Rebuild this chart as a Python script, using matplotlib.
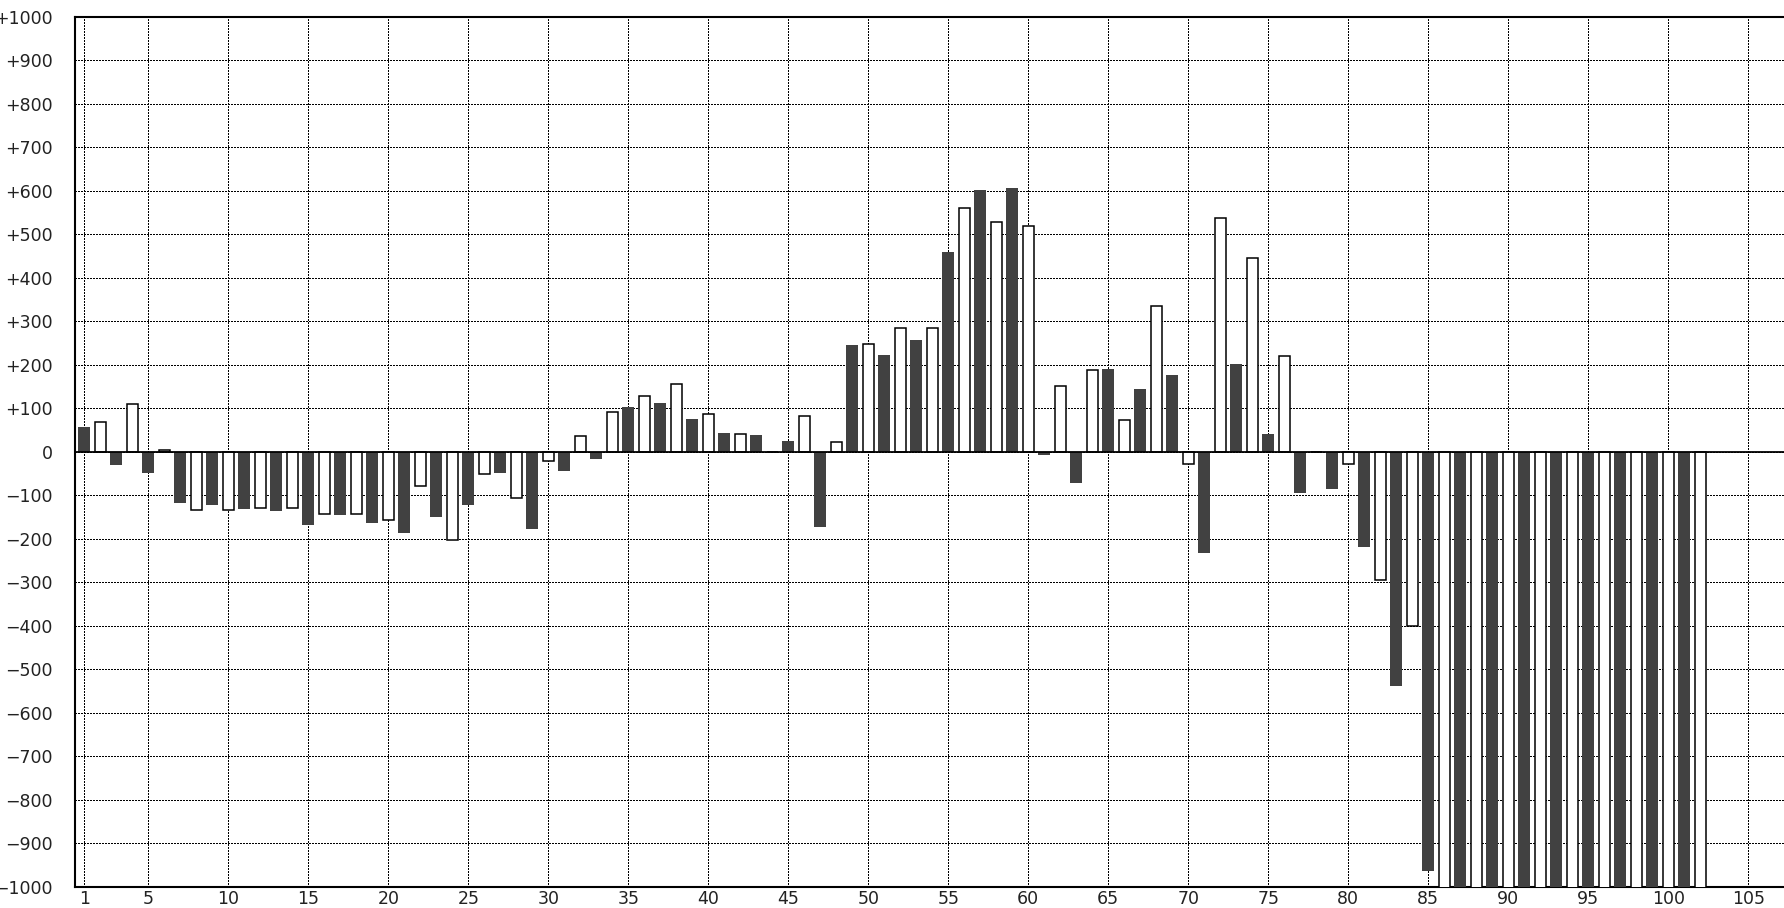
import matplotlib
matplotlib.use("Agg")
import matplotlib.pyplot as plt
from matplotlib.ticker import FixedLocator, FuncFormatter

# ---- data ----
positions = list(range(1, 103))
values = [
    57, 69, -30, 110, -49, 5, -118, -133, -122, -133,
    -131, -130, -136, -130, -168, -143, -145, -143, -164, -157,
    -186, -79, -150, -203, -122, -52, -49, -107, -177, -20,
    -44, 37, -17, 92, 102, 129, 112, 157, 75, 88,
    43, 42, 38, 0, 25, 82, -172, 23, 245, 248,
    222, 284, 258, 284, 460, 560, 602, 528, 607, 518,
    -7, 151, -71, 188, 190, 73, 144, 335, 176, -29,
    -232, 537, 203, 445, 42, 220, -95, 0, -86, -29,
    -218, -295, -539, -401, -964, -1200, -1200, -1200, -1200, -1200,
    -1200, -1200, -1200, -1200, -1200, -1200, -1200, -1200, -1200, -1200,
    -1200, -1200,
]
x_ticks = [1, 5, 10, 15, 20, 25, 30, 35, 40, 45, 50, 55, 60, 65, 70, 75,
           80, 85, 90, 95, 100, 105]
y_ticks = list(range(-1000, 1001, 100))

dark_x = [p for p in positions if p % 2 == 1]
dark_v = [v for p, v in zip(positions, values) if p % 2 == 1]
white_x = [p for p in positions if p % 2 == 0]
white_v = [v for p, v in zip(positions, values) if p % 2 == 0]

W, H = 1784, 908
fig = plt.figure(figsize=(W / 100, H / 100), dpi=100)
ax_left, ax_right, ax_top, ax_bottom = 75, 1784, 16.7, 887
ax = fig.add_axes([ax_left / W, (H - ax_bottom) / H,
                   (ax_right - ax_left) / W, (ax_bottom - ax_top) / H])

ax.bar(dark_x, dark_v, width=0.74, color="#414141", edgecolor="none",
       zorder=3)
ax.bar(white_x, white_v, width=0.70, color="white", edgecolor="black",
       linewidth=1.1, zorder=3)
ax.axhline(0, color="black", linewidth=1.3, zorder=4)

ax.set_xlim(0.42, (1784 - 68.3) / 16.0)
ax.set_ylim(-1000, 1000)

ax.xaxis.set_major_locator(FixedLocator(x_ticks))
ax.yaxis.set_major_locator(FixedLocator(y_ticks))


def yfmt(v, pos):
    v = int(round(v))
    if v > 0:
        return "+%d" % v
    if v < 0:
        return "\u2212%d" % (-v)
    return "0"


ax.yaxis.set_major_formatter(FuncFormatter(yfmt))
ax.tick_params(axis="both", length=0, labelsize=12.5, colors="#222222")
ax.tick_params(axis="y", pad=16)
ax.tick_params(axis="x", pad=2.5)

ax.grid(True, which="major", color="black", linestyle=(0, (1.4, 1.4)),
        linewidth=0.75, antialiased=False, zorder=1)
ax.set_axisbelow(True)

for side in ("left", "top", "bottom"):
    ax.spines[side].set_linewidth(1.5)
    ax.spines[side].set_color("black")
ax.spines["right"].set_visible(False)

fig.savefig("out.png", dpi=100)
